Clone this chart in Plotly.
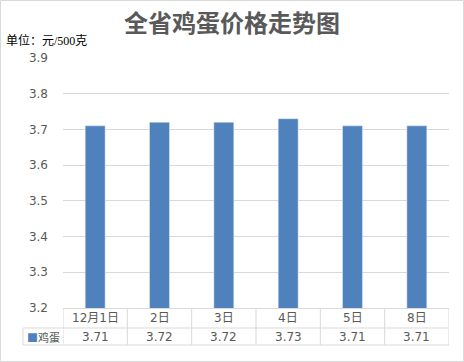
import plotly.graph_objects as go

categories = ["12月1日", "2日", "3日", "4日", "5日", "8日"]
values = [3.71, 3.72, 3.72, 3.73, 3.71, 3.71]
value_labels = ["3.71", "3.72", "3.72", "3.73", "3.71", "3.71"]
series_name = "鸡蛋"
y_ticks = [3.2, 3.3, 3.4, 3.5, 3.6, 3.7, 3.8, 3.9]

W, H = 464, 362
L, R, T, B = 63, 15, 58, 54
pw, ph = W - L - R, H - T - B

def px(xp):
    return (xp - L) / pw

def py(yp):
    return (H - B - yp) / ph

BLUE = "#4F81BD"
GRID = "#D9D9D9"
TXT = "#595959"
FONT = "DejaVu Sans, Noto Sans CJK SC"

fig = go.Figure()
fig.add_trace(go.Bar(x=list(range(len(categories))), y=values, marker_color=BLUE,
                     width=0.31, name=series_name, hoverinfo="skip"))

n = len(categories)
shapes = []
ann = []
# outer border
shapes.append(dict(type="rect", xref="paper", yref="paper", x0=px(0.5), x1=px(463.5),
                   y0=py(361.5), y1=py(0.5), line=dict(color=GRID, width=1)))
# table horizontal lines
for yy, x0p in [(328, 23), (345, 23)]:
    shapes.append(dict(type="line", xref="paper", yref="paper", x0=px(x0p), x1=1,
                       y0=py(yy), y1=py(yy), line=dict(color=GRID, width=1)))
# vertical table lines at category boundaries
for i in range(n + 1):
    shapes.append(dict(type="line", xref="x", yref="paper", x0=i - 0.5, x1=i - 0.5,
                       y0=0, y1=py(345), line=dict(color=GRID, width=1)))
shapes.append(dict(type="line", xref="paper", yref="paper", x0=px(23), x1=px(23),
                   y0=py(328), y1=py(345), line=dict(color=GRID, width=1)))

for i, c in enumerate(categories):
    ann.append(dict(x=i, y=py(318), xref="x", yref="paper", text=c, showarrow=False,
                    xanchor="center", yanchor="middle",
                    font=dict(family=FONT, size=12, color=TXT)))
    ann.append(dict(x=i, y=py(336.5), xref="x", yref="paper", text=value_labels[i], showarrow=False,
                    xanchor="center", yanchor="middle",
                    font=dict(family=FONT, size=12, color=TXT)))

ann.append(dict(x=px(25), y=py(336.5), xref="paper", yref="paper", xanchor="left", yanchor="middle",
                text="<span style='color:%s'>■</span>%s" % (BLUE, series_name), showarrow=False,
                font=dict(family="Noto Sans CJK SC", size=11, color=TXT)))
ann.append(dict(x=px(4), y=py(41), xref="paper", yref="paper", xanchor="left", yanchor="middle",
                text="单位：元/500克", showarrow=False,
                font=dict(family="Liberation Serif, Noto Sans CJK SC", size=12, color="#000000")))

fig.update_layout(
    width=W, height=H,
    margin=dict(l=L, r=R, t=T, b=B),
    paper_bgcolor="white", plot_bgcolor="white",
    showlegend=False,
    title=dict(text="<b>全省鸡蛋价格走势图</b>", x=0.5, xanchor="center", y=1 - 24 / H, yanchor="middle",
               font=dict(family="Noto Sans CJK SC", size=24, color=TXT)),
    xaxis=dict(range=[-0.5, n - 0.5], showticklabels=False, showgrid=False, zeroline=False,
               showline=True, linecolor=GRID, ticks=""),
    yaxis=dict(range=[3.2, 3.9], tickvals=y_ticks, ticktext=["%.1f" % v for v in y_ticks],
               showgrid=True, gridcolor=GRID, zeroline=False, showline=False, ticks="",
               ticklabelstandoff=14,
               tickfont=dict(family=FONT, size=12, color=TXT)),
    shapes=shapes, annotations=ann,
)
fig.write_html("out.html", config={"displayModeBar": False},
               post_script="document.body.style.margin='0';document.body.style.padding='0';")
